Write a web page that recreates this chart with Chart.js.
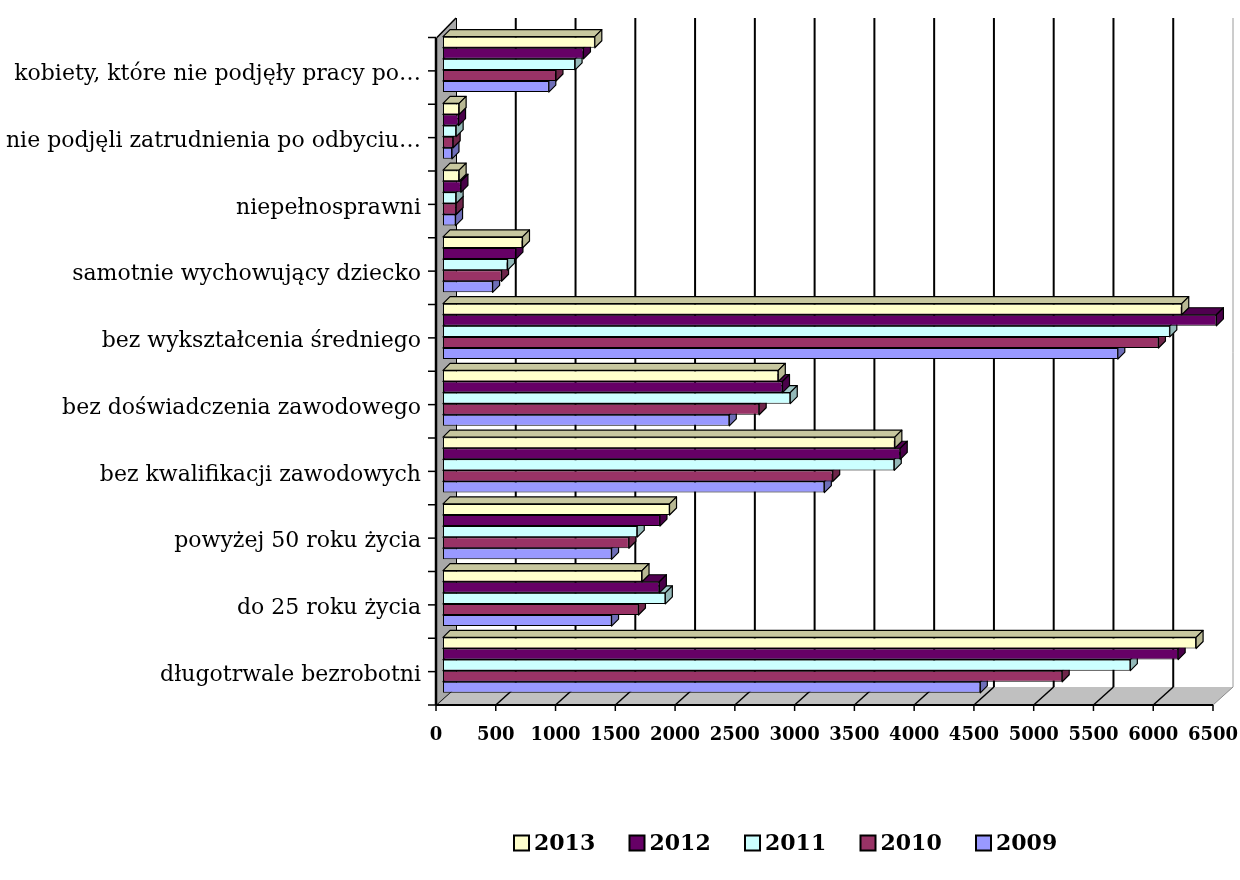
<!DOCTYPE html>
<html>
<head>
<meta charset="utf-8">
<script src="https://cdn.jsdelivr.net/npm/chart.js@4.4.1/dist/chart.umd.min.js"></script>
<style>
  html, body { margin: 0; padding: 0; background: #fff; }
  #wrap { width: 1240px; height: 880px; }
</style>
</head>
<body>
<div id="wrap"><canvas id="chart" width="1240" height="880"></canvas></div>
<script>
// categories, top to bottom as in the picture
const categories = [
  "kobiety, które nie podjęły pracy po…",
  "nie podjęli zatrudnienia po odbyciu…",
  "niepełnosprawni",
  "samotnie wychowujący dziecko",
  "bez wykształcenia średniego",
  "bez doświadczenia zawodowego",
  "bez kwalifikacji zawodowych",
  "powyżej 50 roku życia",
  "do 25 roku życia",
  "długotrwale bezrobotni",
];

const years = ["2013", "2012", "2011", "2010", "2009"];

const values2013 = [1270, 135, 135, 665, 6180, 2805, 3780, 1895, 1665, 6300];
const values2012 = [1175, 130, 150, 610, 6470, 2840, 3825, 1815, 1810, 6150];
const values2011 = [1105, 110, 110, 540, 6080, 2905, 3775, 1625, 1860, 5750];
const values2010 = [945, 85, 110, 490, 5985, 2645, 3260, 1555, 1635, 5180];
const values2009 = [885, 75, 105, 415, 5645, 2395, 3190, 1410, 1410, 4495];

const xTicks = [0, 500, 1000, 1500, 2000, 2500, 3000, 3500, 4000, 4500, 5000, 5500, 6000, 6500];

const colors = ["#FFFFCC", "#660066", "#CCFFFF", "#993366", "#9999FF"];

// darker tone for the top / side faces
const shade = (hex, f) => {
  const n = parseInt(hex.slice(1), 16);
  const r = Math.round(((n >> 16) & 255) * f);
  const g = Math.round(((n >> 8) & 255) * f);
  const b = Math.round((n & 255) * f);
  return `rgb(${r},${g},${b})`;
};

const DX = 7, DY = 7; // bar depth

const depth3d = {
  id: "depth3d",
  beforeDatasetsDraw(chart) {
    const { ctx, chartArea: a, scales: { x } } = chart;
    const fx = (v) => x.getPixelForValue(v) - 7;  // front plane
    const bx = (v) => x.getPixelForValue(v) + 13; // back wall
    const fb = a.bottom + 6.5, bb = a.bottom - 11.5, bt = a.top - 13;
    const last = xTicks[xTicks.length - 1];
    const n = xTicks.length - 1;
    ctx.save();

    // back wall gridlines
    xTicks.forEach((v, i) => {
      ctx.beginPath();
      ctx.moveTo(bx(v), bt);
      ctx.lineTo(bx(v), bb);
      ctx.lineWidth = i === n ? 1 : 2;
      ctx.strokeStyle = i === n ? "#9a9a9a" : "#000";
      ctx.stroke();
    });

    // floor
    ctx.beginPath();
    ctx.moveTo(fx(0), fb);
    ctx.lineTo(fx(last), fb);
    ctx.lineTo(bx(last), bb);
    ctx.lineTo(bx(0), bb);
    ctx.closePath();
    ctx.fillStyle = "#C0C0C0";
    ctx.fill();
    xTicks.forEach((v, i) => {
      ctx.beginPath();
      ctx.moveTo(fx(v), fb);
      ctx.lineTo(bx(v), bb);
      ctx.lineWidth = i === n ? 1 : 1.5;
      ctx.strokeStyle = i === n ? "#8a8a8a" : "#000";
      ctx.stroke();
    });

    // left wall
    ctx.beginPath();
    ctx.moveTo(fx(0), a.top + 6.5);
    ctx.lineTo(bx(0), bt);
    ctx.lineTo(bx(0), bb);
    ctx.lineTo(fx(0), fb);
    ctx.closePath();
    ctx.fillStyle = "#A8A8A8";
    ctx.fill();
    ctx.beginPath();
    ctx.moveTo(fx(0) + 1, a.top + 6.5);
    ctx.lineTo(bx(0), bt);
    ctx.lineWidth = 1.5;
    ctx.strokeStyle = "#000";
    ctx.stroke();

    // front x axis and ticks
    ctx.beginPath();
    ctx.moveTo(fx(0), fb);
    ctx.lineTo(fx(last), fb);
    ctx.lineWidth = 2;
    ctx.stroke();
    xTicks.forEach((v) => {
      ctx.beginPath();
      ctx.moveTo(fx(v), fb);
      ctx.lineTo(fx(v), fb + 6);
      ctx.lineWidth = 1.5;
      ctx.stroke();
    });

    // front y axis and ticks
    ctx.beginPath();
    ctx.moveTo(fx(0), a.top + 6.5);
    ctx.lineTo(fx(0), fb);
    ctx.lineWidth = 2.5;
    ctx.stroke();
    const cell = (a.bottom - a.top) / categories.length;
    for (let k = 0; k <= categories.length * 2; k++) {
      const ty = a.top + 6.5 + (k * cell) / 2;
      ctx.beginPath();
      ctx.moveTo(fx(0) - 8, ty);
      ctx.lineTo(fx(0), ty);
      ctx.lineWidth = 1.5;
      ctx.stroke();
    }
    ctx.restore();
  },
  afterDatasetDraw(chart, args) {
    const { ctx } = chart;
    const col = colors[args.index];
    ctx.save();
    ctx.lineWidth = 1.2;
    ctx.strokeStyle = "#000";
    ctx.lineJoin = "round";
    args.meta.data.forEach((el) => {
      const { x, y, base, height } = el.getProps(["x", "y", "base", "height"], true);
      const top = y - height / 2, bot = y + height / 2;
      // top face
      ctx.beginPath();
      ctx.moveTo(base, top);
      ctx.lineTo(x, top);
      ctx.lineTo(x + DX, top - DY);
      ctx.lineTo(base + DX, top - DY);
      ctx.closePath();
      ctx.fillStyle = shade(col, 0.78);
      ctx.fill();
      ctx.stroke();
      // side face
      ctx.beginPath();
      ctx.moveTo(x, top);
      ctx.lineTo(x + DX, top - DY);
      ctx.lineTo(x + DX, bot - DY);
      ctx.lineTo(x, bot);
      ctx.closePath();
      ctx.fillStyle = shade(col, 0.72);
      ctx.fill();
      ctx.stroke();
    });
    ctx.restore();
  },
  afterDraw(chart) {
    // legend row under the chart
    const { ctx } = chart;
    ctx.save();
    ctx.font = "bold 22px 'DejaVu Serif'";
    ctx.textBaseline = "middle";
    ctx.textAlign = "left";
    const cy = 843;
    chart.data.datasets.forEach((ds, i) => {
      const x0 = 514 + i * 115.5;
      ctx.fillStyle = ds.backgroundColor;
      ctx.fillRect(x0, cy - 7.5, 15, 15);
      ctx.lineWidth = 2;
      ctx.strokeStyle = "#000";
      ctx.strokeRect(x0, cy - 7.5, 15, 15);
      ctx.fillStyle = "#000";
      ctx.fillText(ds.label, x0 + 20, cy + 1);
    });
    ctx.restore();
  },
};

const seriesValues = [values2013, values2012, values2011, values2010, values2009];

new Chart(document.getElementById("chart"), {
  type: "bar",
  data: {
    labels: categories,
    datasets: years.map((yr, i) => ({
      label: yr,
      data: seriesValues[i],
      backgroundColor: colors[i],
      borderColor: "#000",
      borderWidth: 1,
      borderSkipped: false,
      inflateAmount: 0,
      categoryPercentage: 0.83,
      barPercentage: 1.0,
    })),
  },
  options: {
    indexAxis: "y",
    responsive: false,
    animation: false,
    devicePixelRatio: 1,
    layout: { padding: { top: 31, right: 20, left: 0, bottom: 0 } },
    plugins: {
      legend: { display: false },
      tooltip: { enabled: false },
    },
    scales: {
      x: {
        min: 0,
        max: 6500,
        afterBuildTicks: (scale) => {
          scale.ticks = xTicks.map((v) => ({ value: v }));
        },
        afterFit: (scale) => {
          scale.height = 181.5;
          scale.paddingLeft = 0;
          scale.paddingRight = 0;
        },
        grid: { display: false, drawTicks: false },
        border: { display: false },
        ticks: {
          padding: 26,
          labelOffset: -7,
          maxRotation: 0,
          autoSkip: false,
          color: "#000",
          callback: (v) => String(v),
          font: { family: "'DejaVu Serif'", size: 18, weight: "bold" },
        },
      },
      y: {
        afterFit: (scale) => {
          scale.width = 443;
          scale.paddingTop = 0;
          scale.paddingBottom = 0;
        },
        grid: { display: false, drawTicks: false },
        border: { display: false },
        ticks: {
          padding: 22,
          labelOffset: 10,
          autoSkip: false,
          color: "#000",
          font: { family: "'DejaVu Serif'", size: 22 },
        },
      },
    },
  },
  plugins: [depth3d],
});
</script>
</body>
</html>
